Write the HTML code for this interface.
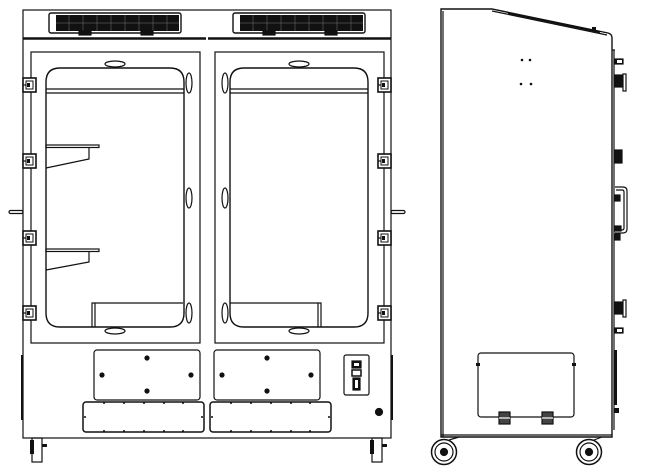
<!DOCTYPE html>
<html><head><meta charset="utf-8"><style>html,body{margin:0;padding:0;background:#fff}svg{display:block}</style></head>
<body>
<svg width="654" height="468" viewBox="0 0 654 468" xmlns="http://www.w3.org/2000/svg" fill="none" stroke="#111" stroke-width="1.2">
<defs>
<g id="door">
  <rect x="0" y="0" width="169" height="291" />
  <path d="M15 30 Q15 16 29 16 H139 Q153 16 153 30 V261 Q153 275 139 275 H29 Q15 275 15 261 Z" stroke-width="1.4"/>
  <line x1="15" y1="37" x2="153" y2="37"/><line x1="15" y1="41" x2="153" y2="41"/>
  <ellipse cx="84" cy="12" rx="10" ry="3"/>
  <ellipse cx="84" cy="279" rx="10" ry="3"/>
</g>
<g id="hinge"><rect x="0" y="-5" width="13" height="14" fill="#fff" stroke-width="1.6"/><rect x="3" y="-2" width="7" height="8" stroke-width="1"/><rect x="4" y="0" width="3" height="4" fill="#111" stroke="none"/><line x1="0" y1="2" x2="3" y2="2"/></g>
<g id="vent"><rect x="0" y="0" width="132" height="20" rx="2" fill="#fff" stroke-width="1.4"/><rect x="7" y="2" width="123" height="16" fill="#111" stroke="none"/>
<g stroke="#777" stroke-width="0.5"><line x1="20" y1="2" x2="20" y2="18"/><line x1="34" y1="2" x2="34" y2="18"/><line x1="48" y1="2" x2="48" y2="18"/><line x1="62" y1="2" x2="62" y2="18"/><line x1="76" y1="2" x2="76" y2="18"/><line x1="90" y1="2" x2="90" y2="18"/><line x1="104" y1="2" x2="104" y2="18"/><line x1="118" y1="2" x2="118" y2="18"/><line x1="7" y1="10" x2="130" y2="10"/></g>
<rect x="30" y="18" width="12" height="4" fill="#111"/><rect x="92" y="18" width="12" height="4" fill="#111"/></g>
<g id="panel"><rect x="0" y="0" width="106" height="50" rx="3"/>
<circle cx="53" cy="8" r="2" fill="#111"/><circle cx="8" cy="25" r="2" fill="#111"/><circle cx="97" cy="25" r="2" fill="#111"/><circle cx="53" cy="41" r="2" fill="#111"/></g>
<g id="lpanel"><rect x="0" y="0" width="121" height="30" rx="3" stroke-width="1.5"/>
<g fill="#111" stroke="none"><circle cx="2" cy="15" r="1"/><circle cx="119" cy="15" r="1"/>
<circle cx="21" cy="1" r="1"/><circle cx="41" cy="1" r="1"/><circle cx="61" cy="1" r="1"/><circle cx="81" cy="1" r="1"/><circle cx="100" cy="1" r="1"/>
<circle cx="21" cy="29" r="1"/><circle cx="41" cy="29" r="1"/><circle cx="61" cy="29" r="1"/><circle cx="81" cy="29" r="1"/><circle cx="100" cy="29" r="1"/></g></g>
</defs>
<!-- FRONT VIEW -->
<rect x="23" y="10" width="368" height="428"/>
<line x1="23" y1="38.5" x2="206" y2="38.5" stroke-width="2.5"/>
<line x1="208" y1="38.5" x2="391" y2="38.5" stroke-width="2.5"/>
<use href="#vent" x="49" y="13"/><use href="#vent" x="233" y="13"/>
<use href="#door" x="31" y="52"/>
<use href="#door" x="215" y="52"/>
<g stroke-width="1.2">
<ellipse cx="189" cy="83" rx="3" ry="10"/><ellipse cx="189" cy="198" rx="3" ry="10"/><ellipse cx="189" cy="313" rx="3" ry="10"/>
<ellipse cx="225" cy="83" rx="3" ry="10"/><ellipse cx="225" cy="198" rx="3" ry="10"/><ellipse cx="225" cy="313" rx="3" ry="10"/>
</g>
<rect x="46" y="145" width="53" height="2.5"/><path d="M89 148 V159 L46 168"/>
<rect x="46" y="249" width="53" height="2.5"/><path d="M89 252 V262 L46 270"/>
<path d="M92 327 V303 H183"/><line x1="95" y1="303" x2="95" y2="327"/>
<path d="M321 327 V303 H230"/><line x1="318" y1="303" x2="318" y2="327"/>
<use href="#hinge" x="23" y="83"/><use href="#hinge" x="23" y="159"/><use href="#hinge" x="23" y="236"/><use href="#hinge" x="23" y="311"/>
<use href="#hinge" x="378" y="83"/><use href="#hinge" x="378" y="159"/><use href="#hinge" x="378" y="236"/><use href="#hinge" x="378" y="311"/>
<rect x="9" y="210.5" width="14" height="3" rx="1.5"/><rect x="391" y="210.5" width="14" height="3" rx="1.5"/>
<line x1="22" y1="355" x2="22" y2="420" stroke-width="2"/><line x1="392" y1="355" x2="392" y2="420" stroke-width="2"/>
<use href="#panel" x="94" y="350"/><use href="#panel" x="214" y="350"/>
<use href="#lpanel" x="83" y="402"/><use href="#lpanel" x="210" y="402"/>
<rect x="344" y="355" width="25" height="40" rx="2"/>
<rect x="352" y="361" width="9" height="7" fill="#111"/><rect x="354" y="363" width="5" height="3" fill="#fff" stroke="none"/>
<rect x="352" y="370" width="9" height="6" stroke-width="1.5"/>
<rect x="353" y="378" width="7" height="12" fill="#111"/><rect x="355" y="380" width="3" height="8" fill="#fff" stroke="none"/>
<circle cx="379" cy="412" r="3.5" fill="#111"/>
<rect x="32" y="438" width="10" height="24"/><rect x="30" y="440" width="4" height="14" fill="#111" stroke="none"/><rect x="42" y="444" width="5" height="3" fill="#111" stroke="none"/>
<rect x="372" y="438" width="10" height="24"/><rect x="370" y="440" width="4" height="14" fill="#111" stroke="none"/><rect x="382" y="444" width="5" height="3" fill="#111" stroke="none"/>
<!-- SIDE VIEW -->
<path d="M441 437 V9 H492 L608 33 Q612 34 612 38 V437 Z" stroke-width="1.4"/>
<path d="M443 437 V11"/><path d="M492 11 L607 35"/>
<line x1="508" y1="13" x2="600" y2="32" stroke-width="2"/>
<rect x="592" y="27" width="4" height="4" fill="#111" stroke="none"/>
<line x1="441" y1="435" x2="612" y2="435"/>
<line x1="614" y1="50" x2="614" y2="430"/><line x1="612" y1="50" x2="615" y2="50"/>
<g fill="#111" stroke="none"><circle cx="522" cy="60" r="1.3"/><circle cx="530" cy="60" r="1.3"/><circle cx="521" cy="84" r="1.3"/><circle cx="531" cy="84" r="1.3"/></g>
<g>
<rect x="615" y="59" width="8" height="5" fill="#111"/><rect x="617" y="60" width="5" height="3" fill="#fff" stroke="none"/>
<rect x="615" y="75" width="8" height="12" fill="#111"/><rect x="623" y="74" width="3" height="17" fill="#fff"/>
<rect x="615" y="150" width="7" height="13" fill="#111"/>
<path d="M615 187 H623 Q627 187 627 191 V229 Q627 233 623 233 H615" stroke-width="1.2"/>
<path d="M616 190 H622 Q624 190 624 192 V228 Q624 230 622 230 H616"/>
<rect x="615" y="195" width="5" height="6" fill="#111"/><rect x="615" y="226" width="6" height="5" fill="#111"/>
<rect x="615" y="234" width="5" height="6" fill="#111"/>
<rect x="615" y="302" width="8" height="12" fill="#111"/><rect x="623" y="300" width="3" height="17" fill="#fff"/>
<rect x="615" y="328" width="8" height="5" fill="#111"/><rect x="617" y="329" width="5" height="3" fill="#fff" stroke="none"/>
<rect x="614" y="350" width="3" height="55" fill="#111" stroke="none"/>
<rect x="614" y="408" width="5" height="5" fill="#111" stroke="none"/>
</g>
<rect x="478" y="353" width="96" height="64" rx="3"/>
<rect x="476" y="363" width="4" height="3" fill="#111" stroke="none"/><rect x="572" y="363" width="4" height="3" fill="#111" stroke="none"/>
<rect x="499" y="412" width="11" height="12" fill="#444"/><line x1="499" y1="418" x2="510" y2="418" stroke="#fff"/>
<rect x="542" y="412" width="11" height="12" fill="#444"/><line x1="542" y1="418" x2="553" y2="418" stroke="#fff"/>
<circle cx="444" cy="452" r="12.5" stroke-width="1.5"/><circle cx="444" cy="452" r="9"/><circle cx="444" cy="452" r="3.5" fill="#111"/>
<line x1="449" y1="440" x2="459" y2="437"/>
<circle cx="589" cy="452" r="12.5" stroke-width="1.5"/><circle cx="589" cy="452" r="9"/><circle cx="589" cy="452" r="3.5" fill="#111"/>
<line x1="594" y1="440" x2="602" y2="437"/>
</svg>
</body></html>
